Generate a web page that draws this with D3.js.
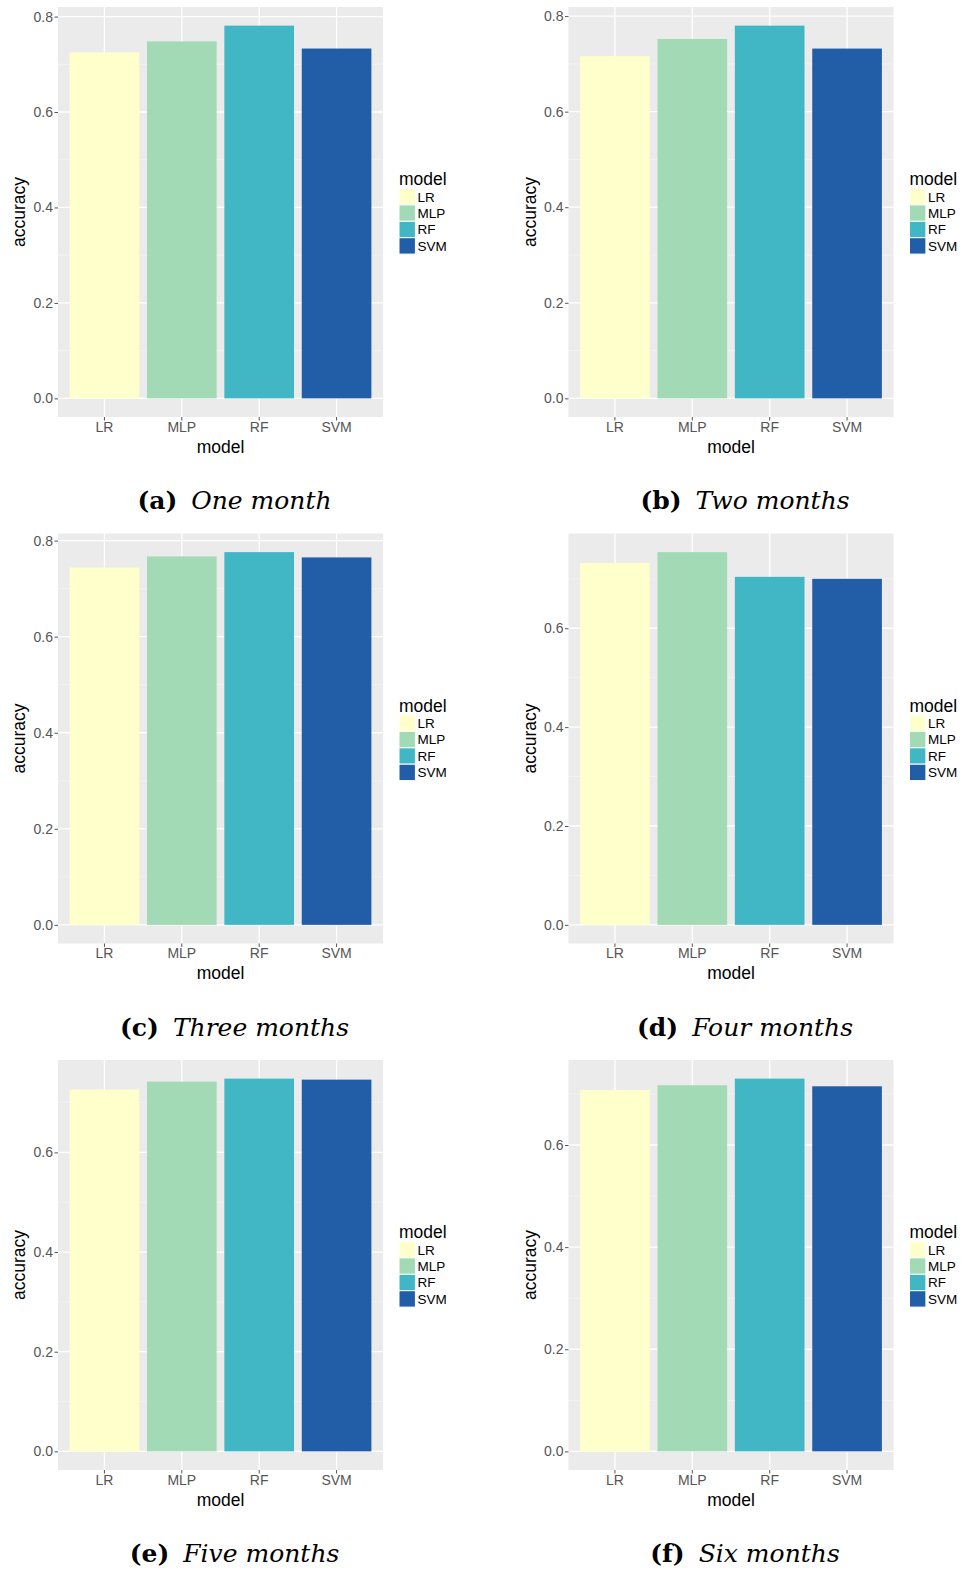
<!DOCTYPE html>
<html>
<head>
<meta charset="utf-8">
<script src="https://cdn.jsdelivr.net/npm/d3@7"></script>
<style>
  body { margin: 0; background: #fff; }
  svg { display: block; }
</style>
</head>
<body>
<div class="chart"></div>
<script>
// data
var models = ["LR", "MLP", "RF", "SVM"];
var modelColors = ["#FFFFCC", "#A1DAB4", "#41B6C4", "#225EA8"];
var panelLetters = ["a", "b", "c", "d", "e", "f"];
var panelTitles = ["One month", "Two months", "Three months", "Four months", "Five months", "Six months"];
var oneMonth = [0.725, 0.748, 0.781, 0.733];
var twoMonths = [0.716, 0.752, 0.780, 0.732];
var threeMonths = [0.744, 0.767, 0.776, 0.765];
var fourMonths = [0.732, 0.754, 0.704, 0.700];
var fiveMonths = [0.726, 0.742, 0.748, 0.746];
var sixMonths = [0.708, 0.717, 0.730, 0.715];
var yTicks = [0, 0.2, 0.4, 0.6, 0.8];
var yMinor = [0.1, 0.3, 0.5, 0.7, 0.9];

var series = [oneMonth, twoMonths, threeMonths, fourMonths, fiveMonths, sixMonths];

var svg = d3.select(".chart").append("svg")
    .attr("width", 966)
    .attr("height", 1572);

var panel = { left: 58, right: 383, top: 7, bottom: 417 };
var colStep = 510.5, rowStep = 526.5;
var sans = "'Liberation Sans', Arial, Helvetica, sans-serif";

var color = d3.scaleOrdinal().domain(models).range(modelColors);

series.forEach(function (vals, i) {
    var g = svg.append("g")
        .attr("transform", "translate(" + (i % 2) * colStep + "," + Math.floor(i / 2) * rowStep + ")");

    var maxV = d3.max(vals);
    var y = d3.scaleLinear()
        .domain([-0.05 * maxV, 1.05 * maxV])
        .range([panel.bottom, panel.top]);

    var x = d3.scaleBand()
        .domain(models)
        .range([panel.left, panel.right])
        .paddingInner(0.1)
        .paddingOuter(0.15);

    // grey panel
    g.append("rect")
        .attr("x", panel.left).attr("y", panel.top)
        .attr("width", panel.right - panel.left)
        .attr("height", panel.bottom - panel.top)
        .attr("fill", "#EBEBEB");

    var lo = y.domain()[0], hi = y.domain()[1];
    var majors = yTicks.filter(function (t) { return t >= lo && t <= hi; });
    var minors = yMinor.filter(function (t) { return t >= lo && t <= hi; });

    g.selectAll(".minor").data(minors).enter().append("line")
        .attr("x1", panel.left).attr("x2", panel.right)
        .attr("y1", function (d) { return y(d); })
        .attr("y2", function (d) { return y(d); })
        .attr("stroke", "#F5F5F5").attr("stroke-width", 0.7);

    g.selectAll(".major").data(majors).enter().append("line")
        .attr("x1", panel.left).attr("x2", panel.right)
        .attr("y1", function (d) { return y(d); })
        .attr("y2", function (d) { return y(d); })
        .attr("stroke", "#fff").attr("stroke-width", 1.3);

    g.selectAll(".vgrid").data(models).enter().append("line")
        .attr("x1", function (d) { return x(d) + x.bandwidth() / 2; })
        .attr("x2", function (d) { return x(d) + x.bandwidth() / 2; })
        .attr("y1", panel.top).attr("y2", panel.bottom)
        .attr("stroke", "#fff").attr("stroke-width", 1.3);

    // bars
    g.selectAll(".bar").data(vals).enter().append("rect")
        .attr("x", function (d, j) { return x(models[j]); })
        .attr("y", function (d) { return y(d); })
        .attr("width", x.bandwidth())
        .attr("height", function (d) { return y(0) - y(d); })
        .attr("fill", function (d, j) { return color(models[j]); });

    // axes
    var yAxis = g.append("g")
        .attr("transform", "translate(" + panel.left + ",0)")
        .call(d3.axisLeft(y).tickValues(majors).tickFormat(d3.format(".1f")).tickSize(3.5).tickPadding(1.5));
    var xAxis = g.append("g")
        .attr("transform", "translate(0," + panel.bottom + ")")
        .call(d3.axisBottom(x).tickSize(3.5).tickPadding(1.5));
    [yAxis, xAxis].forEach(function (ax) {
        ax.select(".domain").remove();
        ax.selectAll("line").attr("stroke", "#555");
        ax.selectAll("text")
            .attr("fill", "#555")
            .style("font-family", sans)
            .style("font-size", "14px");
    });

    // axis titles
    g.append("text")
        .attr("x", (panel.left + panel.right) / 2)
        .attr("y", 452.5)
        .attr("text-anchor", "middle")
        .style("font-family", sans).style("font-size", "17.5px")
        .text("model");
    g.append("text")
        .attr("transform", "translate(25," + (panel.top + panel.bottom) / 2 + ") rotate(-90)")
        .attr("text-anchor", "middle")
        .style("font-family", sans).style("font-size", "17.5px")
        .text("accuracy");

    // legend
    var leg = g.append("g").attr("transform", "translate(399,0)");
    leg.append("text")
        .attr("x", 0).attr("y", 185)
        .style("font-family", sans).style("font-size", "17.5px")
        .text("model");
    models.forEach(function (m, j) {
        leg.append("rect")
            .attr("x", 0).attr("y", 188.5 + j * 16.4)
            .attr("width", 16.4).attr("height", 16.4)
            .attr("fill", color(m))
            .attr("stroke", "#fff").attr("stroke-width", 1);
        leg.append("text")
            .attr("x", 18.5).attr("y", 188.5 + j * 16.4 + 8.2)
            .attr("dy", "0.36em")
            .style("font-family", sans).style("font-size", "13.5px")
            .text(m);
    });

    // caption
    var cap = g.append("text")
        .attr("x", (panel.left + panel.right) / 2 + 14)
        .attr("y", 509)
        .attr("text-anchor", "middle")
        .style("font-family", "'DejaVu Serif', 'Liberation Serif', serif")
        .style("font-size", "25px");
    cap.append("tspan").attr("font-weight", "bold").text("(" + panelLetters[i] + ")");
    cap.append("tspan").attr("font-style", "italic").attr("dx", 14).text(panelTitles[i]);
});
</script>
</body>
</html>
